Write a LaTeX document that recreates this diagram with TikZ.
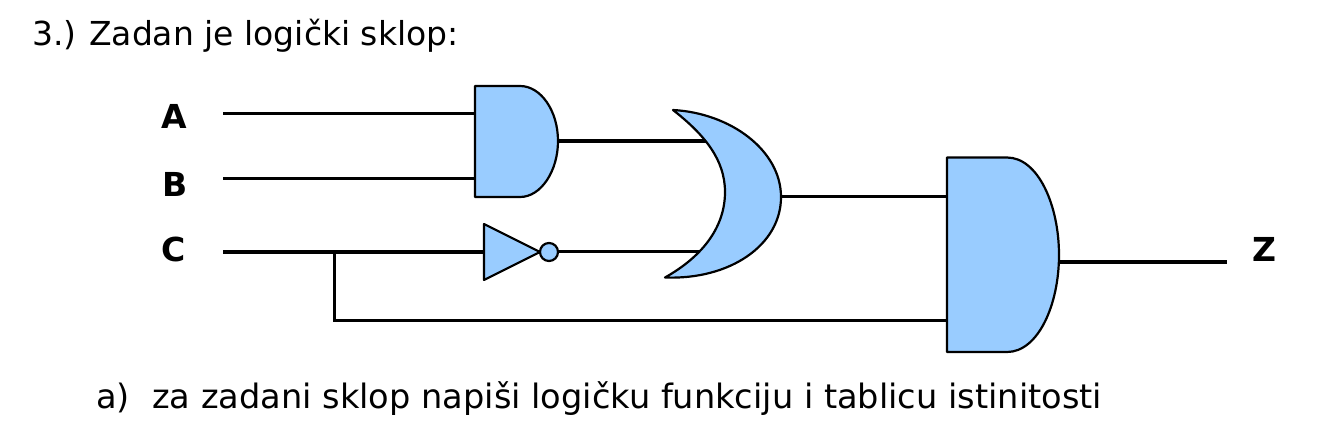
\documentclass[tikz,border=0pt]{standalone}
\usepackage{fontspec}
\setmainfont{DejaVu Sans}
\definecolor{gatefill}{HTML}{99CCFF}
\tikzset{
  gate/.style={draw=black,fill=gatefill,line width=2.2pt,line join=round},
  wire/.style={draw=black,line width=3pt},
  thick wire/.style={draw=black,line width=3.8pt},
  sig/.style={font=\fontsize{33}{33}\selectfont\bfseries,inner sep=0pt,anchor=center},
  txt/.style={font=\fontsize{33}{33}\selectfont,inner sep=0pt,anchor=base west},
  txtb/.style={font=\fontsize{33.6}{33.6}\selectfont,inner sep=0pt,anchor=base west}
}
\begin{document}
\begin{tikzpicture}[x=1pt,y=-1pt]
\useasboundingbox (0,0) rectangle (1322,426);
\fill[white] (0,0) rectangle (1322,426);
\node[txt] (num) at (32,45) {3.)};
\node[txt] (title) at (89,45) {Zadan je logički sklop:};
\node[txtb] (item) at (96,408) {a)};
\node[txtb] (note) at (152,408) {za zadani sklop napiši logičku funkciju i tablicu istinitosti};
\node[sig] (A) at (174,116) {A};
\node[sig] (B) at (175,184.5) {B};
\node[sig] (C) at (174,249.5) {C};
\node[sig] (Z) at (1264,249) {Z};
\coordinate (Ae) at (223,113.5);
\coordinate (Be) at (223,178.5);
\coordinate (Ce) at (223,252);
\coordinate (Ze) at (1227,262);
\coordinate (J) at (334.5,252);
\coordinate (Jd) at (334.5,320.5);
\coordinate (a1) at (475,113.5);
\coordinate (a2) at (475,178.5);
\coordinate (ao) at (558,141);
\coordinate (o1) at (708,141);
\coordinate (o2) at (700,251.5);
\coordinate (oo) at (781,196.5);
\coordinate (n1) at (485,252);
\coordinate (no) at (558,251.5);
\coordinate (b1) at (947,196.5);
\coordinate (b2) at (949,320.5);
\coordinate (bo) at (1060,262);
\draw[wire] (Ae) -- (a1);
\draw[wire] (Be) -- (a2);
\draw[thick wire] (Ce) -- (n1);
\draw[thick wire] (J) -- (Jd);
\draw[wire] (333,320.5) -- (b2);
\draw[thick wire] (ao) -- (o1);
\draw[wire] (no) -- (o2);
\draw[wire] (oo) -- (b1);
\draw[thick wire] (bo) -- (Ze);
\draw[gate] (475,86) -- (520,86) .. controls (541,86) and (558,111) .. (558,141) .. controls (558,171) and (541,197) .. (520,197) -- (475,197) -- cycle;
\draw[gate] (673,110) .. controls (730,113) and (781,150) .. (781,197) .. controls (781,245) and (730,280) .. (665,277.5) .. controls (705,255) and (725,225) .. (725,192) .. controls (725,160) and (705,135) .. (673,110) -- cycle;
\draw[gate] (484,224) -- (540,252) -- (484,280) -- cycle;
\draw[gate] (549,252) circle (9);
\draw[gate] (947,157.5) -- (1007,157.5) .. controls (1038,157.5) and (1059,205) .. (1059,255) .. controls (1059,305) and (1038,352) .. (1007,352) -- (947,352) -- cycle;
\end{tikzpicture}
\end{document}
